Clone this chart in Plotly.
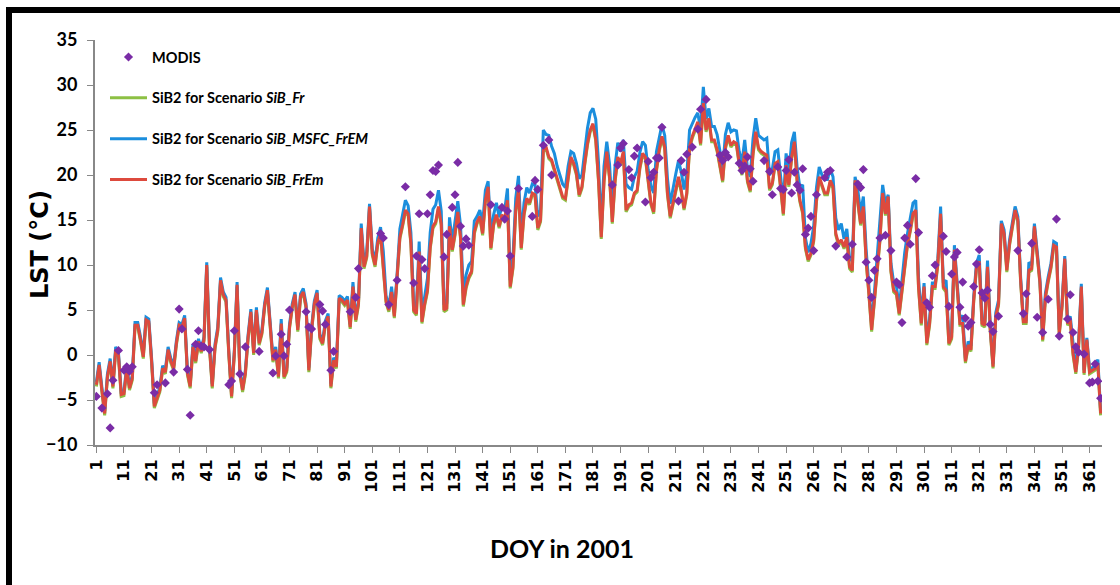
import plotly.graph_objects as go

# ---------------- data ----------------
days = list(range(1, 366))

lst_sib_fr = [
    -3.5, -1.3, -4.1, -6.7, -2.6, -0.9, -3.7, 0.4, -0.2, -4.6,
    -4.5, -1.7, -3.9, -2.8, 3.1, 3.1, 1.5, -0.4, 3.7, 3.5,
    -0.8, -5.9, -5.0, -4.1, -1.7, -2.1, 0.4, -0.9, -1.7, 1.1,
    3.1, 2.9, 3.9, -2.2, -3.7, 0.7, -0.9, 1.3, 0.2, 1.5,
    9.8, 0.7, -3.7, 0.7, 2.6, 8.1, 6.5, 5.9, 0.0, -4.8,
    0.0, 7.6, -2.2, -4.1, -2.2, 1.8, 4.6, 0.0, 4.8, 1.1,
    2.3, 5.3, 7.0, 2.8, -0.8, 0.4, -2.6, 3.3, -2.6, -1.9,
    2.9, 5.2, 6.5, 2.6, 6.3, 6.8, 5.2, -1.9, 2.6, 5.5,
    6.7, 1.8, 1.1, 3.3, 4.1, -3.7, -0.8, -1.5, 6.1, 5.9,
    5.5, 5.9, 2.9, 7.4, 3.7, 5.5, 13.9, 9.6, 10.8, 16.3,
    11.1, 9.8, 12.3, 13.3, 9.8, 5.8, 4.8, 6.8, 4.1, 8.1,
    12.9, 14.3, 15.9, 15.5, 12.3, 4.8, 4.4, 11.3, 3.5, 5.5,
    7.0, 11.8, 14.1, 14.6, 16.3, 14.4, 4.8, 5.0, 14.1, 11.5,
    13.3, 15.7, 12.9, 5.4, 7.4, 8.5, 9.1, 13.5, 14.6, 15.2,
    13.3, 17.0, 18.5, 11.7, 14.4, 15.4, 14.1, 15.4, 14.8, 17.0,
    7.4, 9.6, 15.9, 18.1, 11.7, 15.5, 17.2, 16.7, 17.8, 17.6,
    13.9, 14.8, 22.6, 22.9, 21.8, 21.5, 20.5, 19.4, 18.5, 17.4,
    17.2, 19.6, 21.8, 21.1, 20.0, 17.6, 18.5, 21.1, 23.3, 24.8,
    25.5, 23.8, 19.3, 12.9, 19.2, 22.4, 19.6, 14.6, 19.2, 21.8,
    21.1, 22.4, 15.9, 16.5, 16.7, 17.8, 18.1, 20.7, 22.2, 21.8,
    18.9, 16.7, 15.7, 20.4, 22.6, 24.1, 22.9, 17.8, 15.2, 16.7,
    18.1, 19.6, 18.1, 16.1, 17.8, 22.9, 24.1, 25.0, 25.7, 23.3,
    27.8, 24.8, 26.1, 23.7, 23.7, 22.6, 21.1, 19.2, 22.9, 24.2,
    23.1, 23.5, 23.3, 21.1, 20.0, 22.4, 19.2, 18.1, 22.2, 24.6,
    22.8, 22.4, 22.2, 22.0, 18.3, 18.9, 21.1, 21.3, 18.5, 15.5,
    20.9, 18.7, 21.8, 23.5, 19.2, 17.0, 15.7, 11.8, 10.4, 11.1,
    12.6, 17.0, 19.6, 18.7, 17.8, 17.8, 19.2, 18.5, 13.3, 12.2,
    12.6, 11.8, 12.9, 9.6, 9.2, 19.2, 17.0, 14.4, 16.3, 10.4,
    6.7, 2.6, 5.9, 9.6, 12.6, 17.8, 15.5, 17.4, 9.2, 7.0,
    6.7, 4.4, 7.0, 10.0, 12.2, 13.7, 15.5, 15.9, 7.4, 3.3,
    7.4, 1.1, 3.3, 7.4, 7.4, 10.0, 15.5, 7.4, 7.0, 1.1,
    1.8, 11.5, 7.8, 3.3, 3.3, -0.9, 0.9, 0.4, 5.9, 9.6,
    10.2, 3.3, 3.1, 9.6, 2.6, -1.5, 4.1, 5.5, 14.4, 13.3,
    9.2, 12.2, 14.1, 15.9, 14.8, 8.1, 3.5, 3.5, 9.2, 9.4,
    14.1, 10.7, 7.9, 1.5, 6.3, 8.1, 9.6, 12.0, 11.8, 2.2,
    5.2, 10.5, 3.3, 3.7, 0.0, -2.1, 0.7, 7.4, -2.2, 1.5,
    -2.1, -1.9, -1.7, -1.1, -6.7,
]

lst_sib_msfc_frem = [
    -3.0, -0.8, -3.6, -6.2, -2.1, -0.4, -3.2, 0.9, 0.3, -4.1,
    -4.0, -1.2, -3.4, -2.3, 3.6, 3.6, 2.0, 0.1, 4.2, 4.0,
    -0.3, -5.4, -4.5, -3.6, -1.2, -1.6, 0.9, -0.4, -1.2, 1.6,
    3.6, 3.4, 4.4, -1.7, -3.2, 1.2, -0.4, 1.8, 0.7, 2.0,
    10.3, 1.2, -3.2, 1.2, 3.1, 8.6, 7.0, 6.4, 0.5, -4.3,
    0.5, 8.1, -1.7, -3.6, -1.7, 2.3, 5.1, 0.5, 5.3, 1.6,
    2.8, 5.8, 7.5, 3.3, -0.3, 0.9, -2.1, 4.0, -2.1, -1.4,
    3.4, 5.7, 7.0, 3.1, 6.8, 7.4, 5.7, -1.4, 3.1, 6.0,
    7.2, 2.3, 1.6, 3.8, 4.6, -3.2, -0.3, -1.0, 6.6, 6.4,
    6.0, 6.5, 3.4, 8.1, 4.2, 6.0, 14.6, 10.2, 11.5, 16.8,
    11.8, 10.4, 13.0, 14.2, 11.5, 6.6, 5.4, 7.6, 4.8, 9.0,
    14.0, 15.6, 17.2, 16.6, 13.6, 5.8, 5.3, 12.6, 4.6, 6.5,
    8.5, 13.6, 16.2, 16.7, 18.3, 16.0, 5.6, 5.8, 15.3, 12.6,
    14.8, 17.1, 14.4, 6.9, 8.9, 10.0, 10.4, 14.9, 15.4, 16.1,
    14.6, 18.3, 19.3, 13.2, 15.6, 16.9, 15.3, 16.6, 16.1, 18.5,
    8.3, 10.8, 17.4, 19.9, 13.1, 16.9, 18.6, 18.0, 19.0, 18.9,
    15.4, 16.1, 25.0, 24.5, 24.4, 23.2, 22.4, 21.0, 20.0, 19.0,
    18.6, 21.0, 22.6, 22.4, 21.3, 19.6, 20.0, 22.6, 25.2, 26.9,
    27.4, 26.2, 21.4, 13.8, 21.0, 23.7, 21.2, 15.9, 21.0, 23.6,
    22.6, 23.9, 19.0, 18.6, 18.4, 19.8, 20.4, 22.5, 23.7, 23.3,
    20.6, 18.8, 18.0, 22.6, 24.3, 25.6, 24.4, 19.6, 16.8, 18.6,
    20.1, 21.6, 20.3, 18.4, 20.0, 25.0, 25.8, 26.4, 26.9, 25.0,
    29.8, 26.2, 27.4, 25.4, 25.4, 24.5, 22.7, 20.6, 24.5, 25.8,
    24.8, 25.0, 24.9, 22.6, 21.4, 23.9, 20.7, 19.8, 24.0, 26.3,
    24.4, 24.1, 23.9, 24.1, 20.0, 20.6, 22.6, 22.8, 20.0, 17.0,
    22.4, 20.2, 23.6, 24.8, 20.8, 18.6, 18.9, 13.0, 11.4, 12.4,
    14.3, 18.6, 20.9, 20.0, 19.5, 19.5, 20.7, 19.8, 15.2, 13.9,
    14.6, 12.9, 14.0, 10.8, 10.4, 19.8, 18.3, 15.8, 17.6, 11.8,
    7.7, 3.4, 6.9, 10.9, 13.9, 18.9, 16.8, 17.8, 10.2, 8.0,
    7.6, 5.3, 8.3, 11.4, 13.5, 15.1, 16.9, 17.2, 8.6, 4.2,
    8.0, 1.8, 4.0, 8.0, 8.0, 10.7, 16.5, 8.0, 8.3, 1.8,
    2.5, 12.2, 8.5, 3.9, 4.4, -0.4, 1.5, 1.0, 6.5, 10.2,
    11.1, 3.9, 3.7, 10.5, 3.2, -1.0, 4.7, 6.1, 14.9, 13.9,
    9.8, 12.8, 14.7, 16.5, 15.4, 8.7, 4.0, 4.0, 10.3, 10.0,
    14.6, 11.3, 8.5, 2.0, 6.9, 8.7, 10.2, 12.6, 12.4, 2.8,
    5.8, 11.0, 3.9, 4.3, 0.9, -1.6, 1.2, 7.9, -1.7, 1.9,
    -1.6, -1.4, -1.2, -0.5, -6.2,
]

lst_sib_frem = [
    -3.3, -1.1, -3.9, -6.5, -2.4, -0.7, -3.5, 0.6, 0.0, -4.4,
    -4.3, -1.5, -3.7, -2.6, 3.3, 3.3, 1.7, -0.2, 3.9, 3.7,
    -0.6, -5.7, -4.8, -3.9, -1.5, -1.9, 0.6, -0.7, -1.5, 1.3,
    3.3, 3.1, 4.1, -2.0, -3.5, 0.9, -0.7, 1.5, 0.4, 1.7,
    10.0, 0.9, -3.5, 0.9, 2.8, 8.3, 6.7, 6.1, 0.2, -4.6,
    0.2, 7.8, -2.0, -3.9, -2.0, 2.0, 4.8, 0.2, 5.0, 1.3,
    2.5, 5.5, 7.2, 3.0, -0.6, 0.6, -2.4, 3.5, -2.4, -1.7,
    3.1, 5.4, 6.7, 2.8, 6.5, 7.0, 5.4, -1.7, 2.8, 5.7,
    6.9, 2.0, 1.3, 3.5, 4.3, -3.5, -0.6, -1.3, 6.3, 6.1,
    5.7, 6.1, 3.1, 7.6, 3.9, 5.7, 14.1, 9.8, 11.0, 16.5,
    11.3, 10.0, 12.5, 13.5, 10.0, 6.0, 5.0, 7.0, 4.3, 8.3,
    13.1, 14.5, 16.1, 15.7, 12.5, 5.0, 4.6, 11.5, 3.7, 5.7,
    7.2, 12.0, 14.3, 14.8, 16.5, 14.6, 5.0, 5.2, 14.3, 11.7,
    13.5, 15.9, 13.1, 5.6, 7.6, 8.7, 9.3, 13.7, 14.8, 15.4,
    13.5, 17.2, 18.7, 11.9, 14.6, 15.6, 14.3, 15.6, 15.0, 17.2,
    7.6, 9.8, 16.1, 18.3, 11.9, 15.7, 17.4, 16.9, 18.0, 17.8,
    14.1, 15.0, 22.8, 23.1, 22.0, 21.7, 20.7, 19.6, 18.7, 17.6,
    17.4, 19.8, 22.0, 21.3, 20.2, 17.8, 18.7, 21.3, 23.5, 25.0,
    25.7, 24.0, 19.5, 13.1, 19.4, 22.6, 19.8, 14.8, 19.4, 22.0,
    21.3, 22.6, 16.1, 16.7, 16.9, 18.0, 18.3, 20.9, 22.4, 22.0,
    19.1, 16.9, 15.9, 20.6, 22.8, 24.3, 23.1, 18.0, 15.4, 16.9,
    18.3, 19.8, 18.3, 16.3, 18.0, 23.1, 24.3, 25.2, 25.9, 23.5,
    28.0, 25.0, 26.3, 23.9, 23.9, 22.8, 21.3, 19.4, 23.1, 24.4,
    23.3, 23.7, 23.5, 21.3, 20.2, 22.6, 19.4, 18.3, 22.4, 24.8,
    23.0, 22.6, 22.4, 22.2, 18.5, 19.1, 21.3, 21.5, 18.7, 15.7,
    21.1, 18.9, 22.0, 23.7, 19.4, 17.2, 15.9, 12.0, 10.6, 11.3,
    12.8, 17.2, 19.8, 18.9, 18.0, 18.0, 19.4, 18.7, 13.5, 12.4,
    12.8, 12.0, 13.1, 9.8, 9.4, 19.4, 17.2, 14.6, 16.5, 10.6,
    6.9, 2.8, 6.1, 9.8, 12.8, 18.0, 15.7, 17.6, 9.4, 7.2,
    6.9, 4.6, 7.2, 10.2, 12.4, 13.9, 15.7, 16.1, 7.6, 3.5,
    7.6, 1.3, 3.5, 7.6, 7.6, 10.2, 15.7, 7.6, 7.2, 1.3,
    2.0, 11.7, 8.0, 3.5, 3.5, -0.7, 1.1, 0.6, 6.1, 9.8,
    10.4, 3.5, 3.3, 9.8, 2.8, -1.3, 4.3, 5.7, 14.6, 13.5,
    9.4, 12.4, 14.3, 16.1, 15.0, 8.3, 3.7, 3.7, 9.4, 9.6,
    14.3, 10.9, 8.1, 1.7, 6.5, 8.3, 9.8, 12.2, 12.0, 2.4,
    5.4, 10.7, 3.5, 3.9, 0.2, -1.9, 0.9, 7.6, -2.0, 1.7,
    -1.9, -1.7, -1.5, -0.9, -6.5,
]

modis_doy = [
    1, 3, 5, 6, 7, 9, 11, 12, 13, 14, 22, 23, 26, 29, 31, 32, 34, 35, 37, 38,
    39, 40, 42, 49, 50, 51, 53, 55, 60, 65, 66, 68, 69, 70, 71, 77, 78, 79, 82, 83,
    84, 86, 87, 93, 95, 96, 104, 105, 107, 110, 113, 116, 117, 118, 119, 120, 121, 122, 123, 124,
    125, 127, 128, 130, 131, 132, 133, 134, 135, 136, 144, 148, 149, 150, 151, 154, 159, 160, 161, 163,
    165, 166, 188, 190, 191, 192, 194, 195, 196, 197, 200, 201, 202, 203, 204, 205, 206, 212, 213, 214,
    215, 217, 219, 220, 222, 227, 228, 229, 230, 234, 235, 236, 237, 238, 239, 243, 245, 246, 248, 249,
    250, 251, 252, 253, 254, 255, 256, 257, 258, 259, 260, 261, 262, 265, 266, 267, 269, 273, 275, 277,
    278, 279, 280, 281, 282, 283, 284, 285, 287, 289, 291, 292, 293, 294, 295, 296, 298, 299, 302, 303,
    304, 305, 308, 309, 310, 311, 312, 313, 314, 315, 316, 317, 318, 319, 320, 321, 322, 323, 324, 325,
    326, 328, 335, 337, 338, 340, 342, 344, 346, 349, 350, 353, 354, 355, 356, 357, 359, 361, 362, 363,
    364, 365,
]
modis_lst = [
    -4.6, -5.9, -4.3, -8.1, -2.8, 0.5, -1.7, -1.3, -1.8, -1.3, -4.2, -3.3, -3.1, -1.9, 5.1, 2.9, -1.6, -6.7, 1.2, 2.7,
    1.0, 0.9, 0.6, -3.3, -2.9, 2.7, -2.1, 0.9, 0.4, -2.0, -0.1, 2.3, -0.1, 1.2, 5.0, 4.8, 3.1, 2.9, 5.6, 4.9,
    3.4, -1.7, 0.4, 4.8, 6.4, 9.6, 13.5, 13.0, 5.6, 8.3, 18.7, 8.0, 11.0, 15.7, 10.6, 9.6, 15.7, 17.8, 20.5, 20.4,
    21.1, 10.9, 13.4, 16.4, 17.8, 21.4, 14.3, 12.1, 12.9, 12.2, 16.7, 16.4, 15.1, 16.0, 11.0, 18.5, 15.4, 19.4, 18.4, 23.3,
    23.9, 20.0, 18.9, 21.1, 23.0, 23.5, 20.6, 19.7, 22.1, 23.0, 17.0, 21.5, 19.7, 20.3, 21.9, 21.9, 25.3, 17.1, 21.6, 20.3,
    22.3, 23.1, 25.1, 27.3, 28.4, 22.2, 21.6, 22.5, 22.0, 21.3, 20.5, 21.0, 22.0, 20.7, 19.3, 21.6, 20.4, 17.8, 20.9, 18.5,
    18.4, 20.5, 21.7, 18.0, 20.3, 18.9, 18.3, 20.7, 13.4, 14.1, 15.4, 11.6, 17.8, 19.7, 20.3, 20.5, 12.1, 10.9, 12.3, 19.0,
    18.6, 20.6, 10.3, 8.3, 6.4, 9.4, 10.7, 13.0, 13.3, 11.6, 8.1, 7.8, 3.6, 13.0, 14.4, 12.3, 19.6, 13.6, 5.8, 5.3,
    8.8, 10.0, 13.2, 11.5, 5.4, 9.0, 10.9, 11.4, 5.3, 8.1, 4.1, 3.2, 3.6, 7.6, 10.1, 11.7, 6.9, 6.3, 7.2, 3.4,
    2.6, 4.3, 11.6, 4.6, 6.8, 12.4, 4.2, 2.5, 6.2, 15.1, 2.1, 4.0, 6.7, 2.5, 0.9, 0.3, 0.1, -3.1, -3.0, -1.0,
    -2.9, -4.8,
]

x_tick_vals = list(range(1, 366, 10))
x_tick_text = [str(v) for v in x_tick_vals]
y_tick_vals = list(range(-10, 40, 5))

# ---------------- layout helpers ----------------
W, H = 1120, 585
ML, MR, MT, MB = 95, 18, 40, 140
PW, PH = W - ML - MR, H - MT - MB


def px(xpix):
    return (xpix - ML) / PW


def py(ypix):
    return (H - MB - ypix) / PH


CAL = "Lato, Carlito, Calibri, sans-serif"
BOLDWIDE = "DejaVu Sans, Verdana, sans-serif"

fig = go.Figure()

fig.add_trace(go.Scatter(
    x=days, y=lst_sib_fr, mode="lines", name="SiB2 for Scenario <i>SiB_Fr</i>",
    line=dict(color="#8DC044", width=3), legendrank=2, legendgroup="g2"))
fig.add_trace(go.Scatter(
    x=days, y=lst_sib_msfc_frem, mode="lines", name="SiB2 for Scenario <i>SiB_MSFC_FrEM</i>",
    line=dict(color="#1B8EDD", width=3), legendrank=3, legendgroup="g3"))
fig.add_trace(go.Scatter(
    x=days, y=lst_sib_frem, mode="lines", name="SiB2 for Scenario <i>SiB_FrEm</i>",
    line=dict(color="#DD4A3D", width=3), legendrank=4, legendgroup="g4"))
fig.add_trace(go.Scatter(
    x=modis_doy, y=modis_lst, mode="markers", name="MODIS",
    marker=dict(symbol="diamond", size=7, color="#7A2CA6"), legendrank=1, legendgroup="g1"))

fig.update_layout(
    width=W, height=H, autosize=False,
    margin=dict(l=ML, r=MR, t=MT, b=MB, pad=0),
    paper_bgcolor="white", plot_bgcolor="white",
    showlegend=True,
    legend=dict(
        x=px(105), y=py(41), xanchor="left", yanchor="top",
        bgcolor="rgba(0,0,0,0)", tracegroupgap=19,
        font=dict(family=CAL, size=14.5, color="black", weight="bold"),
        itemwidth=37,
    ),
    xaxis=dict(
        range=[0.5, 365.5], tickmode="array", tickvals=x_tick_vals, ticktext=x_tick_text,
        tickangle=-90, ticks="outside", ticklen=6, tickwidth=1, tickcolor="#888888",
        showline=True, linecolor="#888888", linewidth=2, showgrid=False, zeroline=False,
        tickfont=dict(family=BOLDWIDE, size=16, color="black", weight="bold"),
        automargin=False,
    ),
    yaxis=dict(
        range=[-10, 35], tickmode="array", tickvals=y_tick_vals,
        ticks="outside", ticklen=6, tickwidth=1, tickcolor="#888888",
        showline=True, linecolor="#888888", linewidth=2, showgrid=False, zeroline=False,
        tickfont=dict(family=CAL, size=18, color="black", weight="bold"),
        ticklabelstandoff=6, automargin=False,
    ),
    annotations=[
        dict(text="LST (°C)", xref="paper", yref="paper", x=px(40), y=py(245),
             xanchor="center", yanchor="middle", textangle=-90, showarrow=False,
             font=dict(family=BOLDWIDE, size=24, color="black", weight="bold")),
        dict(text="DOY in 2001", xref="paper", yref="paper", x=px(562), y=py(548),
             xanchor="center", yanchor="middle", showarrow=False,
             font=dict(family=CAL, size=25, color="black", weight="bold")),
    ],
    shapes=[
        dict(type="rect", xref="paper", yref="paper", x0=px(9), y0=py(10), x1=px(1130), y1=py(600),
             line=dict(color="black", width=6), fillcolor="rgba(0,0,0,0)", layer="above"),
    ],
)

fig.write_html("out.html")
